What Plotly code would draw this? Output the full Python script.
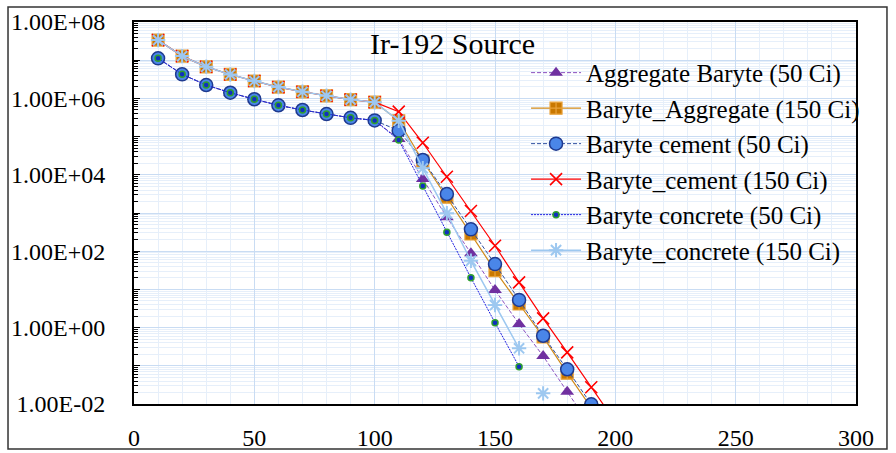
import plotly.graph_objects as go

# Distance (x) and dose-rate values per shielding material / source activity
distance = [10, 20, 30, 40, 50, 60, 70, 80, 90, 100,
            110, 120, 130, 140, 150, 160, 170, 180, 190, 200]

aggregate_baryte_50 = [1.12e7, 4.27e6, 2.24e6, 1.41e6, 9.5e5, 6.6e5, 4.97e5, 3.9e5, 3.1e5, 2.65e5,
                       8.7e4, 7.8e3, 771, 88, 9.6, 1.24, 0.18, 0.021, 0.0025]
baryte_aggregate_150 = [3.36e7, 1.28e7, 6.72e6, 4.23e6, 2.85e6, 1.98e6, 1.49e6, 1.17e6, 9.3e5, 7.95e5,
                        2.6e5, 2.3e4, 2.6e3, 282, 31, 4.15, 0.57, 0.064, 0.008]
baryte_cement_50 = [1.12e7, 4.27e6, 2.24e6, 1.41e6, 9.5e5, 6.6e5, 4.97e5, 3.9e5, 3.1e5, 2.65e5,
                    1.43e5, 2.44e4, 3.14e3, 374, 46, 5.3, 0.61, 0.081, 0.0098]
baryte_cement_150 = [3.36e7, 1.28e7, 6.72e6, 4.23e6, 2.85e6, 1.98e6, 1.49e6, 1.17e6, 9.3e5, 7.95e5,
                     4.5e5, 6.9e4, 8.9e3, 1.13e3, 139, 15.3, 1.75, 0.225, 0.0274, 0.0034]
baryte_concrete_50 = [1.12e7, 4.27e6, 2.24e6, 1.41e6, 9.5e5, 6.6e5, 4.97e5, 3.9e5, 3.1e5, 2.65e5,
                      8.1e4, 5.1e3, 313, 20.2, 1.34, 0.095]
baryte_concrete_150 = [3.36e7, 1.28e7, 6.72e6, 4.23e6, 2.85e6, 1.98e6, 1.49e6, 1.17e6, 9.3e5, 7.95e5,
                       2.6e5, 1.48e4, 982, 56, 3.9, 0.287, 0.019]

y_tick_vals = [1e-2, 1e-1, 1e0, 1e1, 1e2, 1e3, 1e4, 1e5, 1e6, 1e7, 1e8]
y_tick_text = ["1.00E-02", "", "1.00E+00", "", "1.00E+02", "", "1.00E+04", "",
               "1.00E+06", "", "1.00E+08"]

FONT = "Liberation Serif"

fig = go.Figure()


def add(name, values, line, marker, group, n_line=None):
    n_line = len(values) if n_line is None else n_line
    fig.add_trace(go.Scatter(
        x=distance[:n_line], y=values[:n_line], name=name, mode="lines+markers",
        line=line, marker=marker, legendgroup=group,
    ))
    if n_line < len(values):
        fig.add_trace(go.Scatter(
            x=distance[n_line:len(values)], y=values[n_line:], mode="markers",
            marker=marker, legendgroup=group, showlegend=False,
        ))


add("Aggregate Baryte (50 Ci)", aggregate_baryte_50,
    dict(color="#8A4FBF", width=1, dash="4px,2px"),
    dict(symbol="triangle-up", size=12, color="#7030A0", line=dict(width=0)), "g1")
add("Baryte_Aggregate (150 Ci)", baryte_aggregate_150,
    dict(color="#D08A1A", width=1.2),
    dict(symbol="square-cross", size=12, color="#C97800",
         line=dict(color="#E9A23A", width=1.2)), "g2")
add("Baryte cement (50 Ci)", baryte_cement_50,
    dict(color="#2F4F9F", width=1, dash="4px,2px"),
    dict(symbol="circle", size=13, color="#4A86E8",
         line=dict(color="#1F3A8F", width=1.5)), "g3")
add("Baryte_cement (150 Ci)", baryte_cement_150,
    dict(color="#FF0000", width=1.2),
    dict(symbol="x-thin-open", size=12, color="#FF0000",
         line=dict(color="#FF0000", width=1.6)), "g4")
add("Baryte concrete (50 Ci)", baryte_concrete_50,
    dict(color="#2020E0", width=1, dash="2px,1px"),
    dict(symbol="circle", size=6, color="#1030C0",
         line=dict(color="#2FA02F", width=1.5)), "g5")
add("Baryte_concrete (150 Ci)", baryte_concrete_150,
    dict(color="#9DC8F0", width=1.5),
    dict(symbol="asterisk-open", size=12, color="#9DC8F0",
         line=dict(color="#9DC8F0", width=2)), "g6", n_line=16)

fig.update_layout(
    width=896, height=453,
    margin=dict(l=134, r=40, t=22, b=49),
    paper_bgcolor="white", plot_bgcolor="white",
    font=dict(family=FONT, size=24, color="black"),
    showlegend=True,
    legend=dict(x=0.543, y=0.927, xanchor="left", yanchor="top",
                bgcolor="rgba(0,0,0,0)", font=dict(family=FONT, size=25),
                tracegroupgap=0, itemwidth=50),
    annotations=[dict(text="Ir-192 Source", x=132.5, y=7.43, xref="x", yref="y",
                      showarrow=False, font=dict(family=FONT, size=30))],
    shapes=[dict(type="rect", xref="paper", yref="paper",
                 x0=-0.1745, x1=1.0429, y0=-0.1178, y1=1.0393,
                 line=dict(color="#333333", width=1.5), layer="below")],
)

fig.update_xaxes(
    range=[0, 300], dtick=50, tick0=0, automargin=False,
    showgrid=True, gridcolor="#C9DCF3", gridwidth=1,
    minor=dict(dtick=10, showgrid=True, gridcolor="#E6EFFA", gridwidth=1),
    showline=True, linecolor="black", linewidth=2, mirror=True,
    ticks="", zeroline=False, ticklabelstandoff=11,
    tickfont=dict(family=FONT, size=24),
)

fig.update_yaxes(
    type="log", range=[-2, 8], automargin=False,
    tickmode="array", tickvals=y_tick_vals, ticktext=y_tick_text,
    showgrid=True, gridcolor="#C9DCF3", gridwidth=1,
    minor=dict(dtick="D1", showgrid=True, gridcolor="#E6EFFA", gridwidth=1,
               ticks="inside", ticklen=4, tickcolor="black"),
    ticks="inside", ticklen=6, tickcolor="black",
    showline=True, linecolor="black", linewidth=2, mirror=True,
    zeroline=False, ticklabelstandoff=22,
    tickfont=dict(family=FONT, size=24),
)

fig.write_html("out.html")
